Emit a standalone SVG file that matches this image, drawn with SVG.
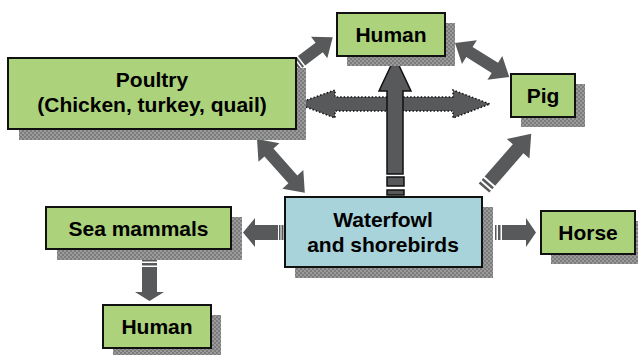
<svg xmlns="http://www.w3.org/2000/svg" width="638" height="355" viewBox="0 0 638 355">
<style>
.box{stroke:#111;stroke-width:2}
.g{fill:#acd27c}
.b{fill:#a8d3da}
.sh{fill:url(#chk)}
.t{font-family:"Liberation Sans",Arial,sans-serif;font-weight:bold;font-size:21px;fill:#000;text-anchor:middle}
.ar{fill:#58595b}
.ao{fill:#58595b;stroke:#111;stroke-width:1.5}
.dot{fill:#58595b;stroke:#111;stroke-width:1.5;stroke-dasharray:1.5 2}
</style>
<defs>
<pattern id="chk" width="4" height="4" patternUnits="userSpaceOnUse">
<rect width="4" height="4" fill="#9a9a9a"/>
<rect width="2" height="2" fill="#7c7c7c"/>
<rect x="2" y="2" width="2" height="2" fill="#7c7c7c"/>
</pattern>
</defs>
<g id="connectors">
<!-- Poultry -> Human top -->
<g transform="translate(296,65) rotate(-37)">
<rect class="ar" x="0" y="-6" width="2" height="12"/>
<rect class="ar" x="3.5" y="-6" width="2" height="12"/>
<path class="ar" d="M7,-6 H29 V-13.5 L46,0 L29,13.5 V6 H7 Z"/>
</g>
<!-- Poultry <-> Pig horizontal dotted -->
<path class="dot" d="M297,103.5 L335,90 V97 H453 V90 L490,104 L453,118 V111 H335 V118 Z"/>
<!-- Waterfowl -> Human top vertical -->
<path class="ao" d="M387,174 V91 H379 L395,57 L411,91 H403 V174 Z"/>
<rect class="ao" x="387" y="177" width="17" height="9"/>
<rect class="ao" x="387" y="190" width="17" height="5"/>
<!-- Human <-> Pig -->
<g transform="translate(455,43) rotate(32)">
<path class="ar" d="M0,0 L17,-14 V-6 H47 V-14 L64,0 L47,14 V6 H17 V14 Z"/>
</g>
<!-- Poultry <-> Waterfowl -->
<g transform="translate(257,139) rotate(48.4)">
<path class="ar" d="M0,0 L18,-14 V-6 H54 V-14 L72,0 L54,14 V6 H18 V14 Z"/>
</g>
<!-- Waterfowl -> Pig -->
<g transform="translate(484,188) rotate(-49)">
<rect class="ar" x="0" y="-7" width="2.5" height="14"/>
<rect class="ar" x="4.5" y="-7" width="2.5" height="14"/>
<path class="ar" d="M9,-7 H52 V-15 L72,0 L52,15 V7 H9 Z"/>
</g>
<!-- Waterfowl -> Sea mammals -->
<rect class="ar" x="279" y="225" width="1.5" height="15"/>
<rect class="ar" x="281.5" y="225" width="2" height="15"/>
<path class="ar" d="M278,225 H255 V218 L243,232.5 L255,247 V240 H278 Z"/>
<!-- Waterfowl -> Horse -->
<rect class="ar" x="495" y="225" width="1.5" height="15"/>
<rect class="ar" x="498" y="225" width="2.5" height="15"/>
<path class="ar" d="M502,225 H526 V218 L536,232.5 L526,247 V240 H502 Z"/>
<!-- Sea mammals -> Human bottom -->
<rect class="ar" x="142" y="260" width="15" height="1.5"/>
<rect class="ar" x="142" y="263" width="15" height="2.5"/>
<path class="ar" d="M142,267 V292 H135 L149.5,301 L164,292 H157 V267 Z"/>
</g>
<g id="poultry">
<rect class="sh" x="19" y="68" width="287" height="72"/>
<rect class="box g" x="8" y="58" width="288" height="71"/>
<text class="t" x="152" y="87">Poultry</text>
<text class="t" x="152" y="112">(Chicken, turkey, quail)</text>
</g>
<g id="human-top">
<rect class="sh" x="347" y="23" width="108" height="43"/>
<rect class="box g" x="337" y="13" width="108" height="43"/>
<text class="t" x="391" y="42">Human</text>
</g>
<g id="pig">
<rect class="sh" x="521" y="84" width="64" height="43"/>
<rect class="box g" x="511" y="74" width="64" height="43"/>
<text class="t" x="543" y="103">Pig</text>
</g>
<g id="waterfowl">
<rect class="sh" x="295" y="207" width="198" height="71"/>
<rect class="box b" x="285" y="197" width="197" height="70"/>
<text class="t" x="383" y="227">Waterfowl</text>
<text class="t" x="383" y="252">and shorebirds</text>
</g>
<g id="sea-mammals">
<rect class="sh" x="57" y="217" width="185" height="43"/>
<rect class="box g" x="46" y="207" width="185" height="42"/>
<text class="t" x="138.5" y="236">Sea mammals</text>
</g>
<g id="human-bottom">
<rect class="sh" x="113" y="315" width="108" height="43"/>
<rect class="box g" x="103" y="305" width="108" height="43"/>
<text class="t" x="157" y="334">Human</text>
</g>
<g id="horse">
<rect class="sh" x="551" y="221" width="94" height="43"/>
<rect class="box g" x="541" y="211" width="94" height="43"/>
<text class="t" x="588" y="240">Horse</text>
</g>
</svg>
